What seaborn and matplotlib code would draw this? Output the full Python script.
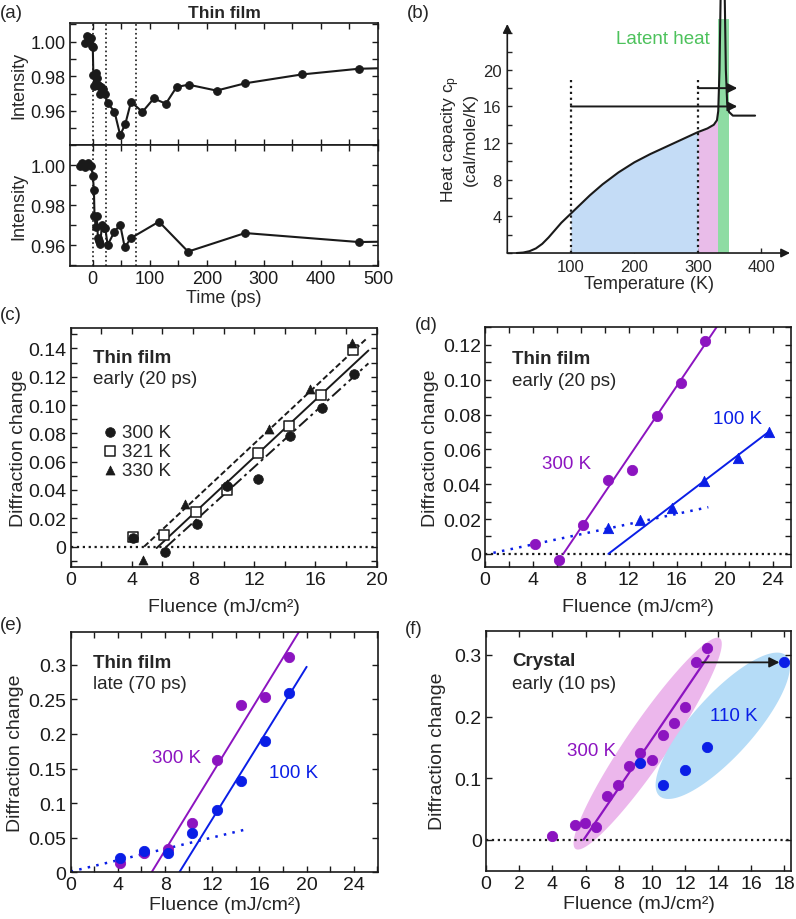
import numpy as np
import matplotlib
matplotlib.use('Agg')
import matplotlib.pyplot as plt
import seaborn as sns
from matplotlib.ticker import MultipleLocator, FuncFormatter
from matplotlib.patches import Polygon

# ---- (a) diffraction intensity vs time, two traces ----
time_top = [-13, -11, -8, -6, -4, -2, 0, 1, 3, 5, 7, 9, 11, 13, 15, 18, 21, 26, 38, 48, 57,
            67, 87, 107, 128, 147, 168, 217, 267, 366, 466, 566]
int_top = [0.9994, 1.0030, 1.0025, 1.0010, 1.0022, 0.9972, 0.9968, 0.9808, 0.9746, 0.9816,
           0.9790, 0.9750, 0.9745, 0.9700, 0.9740, 0.9725, 0.9700, 0.9645, 0.9596, 0.9460,
           0.9524, 0.9652, 0.9594, 0.9672, 0.9641, 0.9738, 0.9751, 0.9717, 0.9759, 0.9810,
           0.9843, 0.9851]
time_bot = [-23, -19, -13, -9, -3, 0, 2, 3, 5, 7, 9, 11, 13, 16, 19, 22, 26, 38, 48, 56, 67,
            116, 167, 267, 466, 566]
int_bot = [0.9997, 1.0012, 0.9992, 1.0012, 0.9997, 0.9948, 0.9875, 0.9747, 0.9692, 0.9747,
           0.9635, 0.9620, 0.9603, 0.9700, 0.9683, 0.9683, 0.9600, 0.9667, 0.9702, 0.9588,
           0.9635, 0.9717, 0.9567, 0.9660, 0.9615, 0.9619]
delay_marks = [0, 23, 75]

# ---- (b) heat capacity sketch ----
temp_k = [15, 25, 35, 45, 55, 65, 75, 85, 100, 115, 130, 150, 175, 200, 225, 250, 275, 300,
          315, 325, 330, 332, 334, 336, 338, 342, 344, 346, 349, 355, 390]
cp_vals = [0, 0.05, 0.2, 0.5, 1.0, 1.7, 2.5, 3.3, 4.3, 5.3, 6.3, 7.5, 8.8, 9.9, 10.8, 11.6,
           12.4, 13.2, 13.6, 14.0, 14.5, 15.5, 20, 29, 29, 29, 20, 16.5, 15.4, 15.0, 15.0]
blue_range = (100, 300)
pink_range = (300, 332)
latent_range = (332, 349)
latent_top = 25.5
ref_temps = [100, 300]
ref_tops = [19.2, 19.0]
arrow_starts = [100, 300]
arrow_levels = [16, 18]
arrow_end = 362

# ---- (c) thin film early, three temperatures ----
c_fl_300 = [4.1, 6.17, 8.24, 10.24, 12.27, 14.34, 16.4, 18.5]
c_dc_300 = [0.0059, -0.004, 0.016, 0.043, 0.048, 0.0784, 0.0976, 0.1219]
c_fl_321 = [4.1, 6.12, 8.19, 10.2, 12.27, 14.3, 16.36, 18.43]
c_dc_321 = [0.0071, 0.0085, 0.0247, 0.0402, 0.0659, 0.0854, 0.1073, 0.1388]
c_fl_330 = [4.75, 7.47, 10.2, 12.98, 15.64, 18.4]
c_dc_330 = [-0.0094, 0.030, 0.044, 0.083, 0.111, 0.1435]
c_fit_330 = ([4.8, 19.35], [0.0, 0.147])
c_fit_321 = ([5.62, 19.46], [-0.001, 0.1385])
c_fit_300 = ([6.27, 19.46], [0.0, 0.1294])

# ---- (d) thin film early, 300 K vs 100 K ----
d_fl_300 = [4.17, 6.2, 8.2, 10.29, 12.29, 14.32, 16.35, 18.35]
d_dc_300 = [0.0057, -0.0033, 0.0167, 0.0425, 0.0482, 0.0789, 0.098, 0.1223]
d_fl_100 = [10.29, 12.93, 15.63, 18.3, 21.08, 23.69]
d_dc_100 = [0.0147, 0.0195, 0.0264, 0.0417, 0.0549, 0.0702]
d_fit_300 = ([6.53, 19.6], [0.0, 0.133])
d_fit_100 = ([10.29, 23.69], [0.0, 0.0702])
d_fit_low = ([0.7, 18.63], [0.0006, 0.0268])

# ---- (e) thin film late ----
e_fl = [4.18, 6.21, 8.28, 10.25, 12.37, 14.4, 16.47, 18.47]
e_dc_300 = [0.0135, 0.0274, 0.0337, 0.0708, 0.1627, 0.2417, 0.2528, 0.3105]
e_dc_100 = [0.0202, 0.0303, 0.0274, 0.0568, 0.0905, 0.1324, 0.190, 0.259]
e_fit_300 = ([6.86, 19.4], [0.0, 0.349])
e_fit_100 = ([9.21, 20.0], [0.0, 0.297])
e_fit_low = ([0.0, 14.63], [0.001, 0.061])

# ---- (f) crystal early ----
f_fl_300 = [3.97, 5.34, 5.99, 6.65, 7.32, 7.98, 8.63, 9.31, 10.0, 10.66, 11.31, 11.99, 12.64, 13.3]
f_dc_300 = [0.0054, 0.0244, 0.0271, 0.020, 0.0704, 0.0893, 0.120, 0.1408, 0.1294, 0.1705,
            0.189, 0.215, 0.289, 0.311]
f_fl_110 = [9.31, 10.66, 11.99, 13.3, 17.96]
f_dc_110 = [0.1245, 0.0893, 0.113, 0.150, 0.288]
f_fit_300 = ([5.89, 13.43], [0.0, 0.2989])
f_arrow = ([13.04, 17.7], [0.288, 0.288])
# ellipses: centre, half-axis vector a, conjugate half-axis vector b (data units)
ell_300 = ((9.75, 0.156), (4.35, 0.171), (1.03, -0.0194))
ell_110 = ((14.28, 0.185), (3.82, 0.114), (1.35, -0.0337))

PURPLE = '#8c14c0'
BLUE = '#0a1ee6'

sns.set_theme(style='ticks')
plt.rcParams['font.family'] = ['Liberation Sans', 'DejaVu Sans']
plt.rcParams['mathtext.fontset'] = 'custom'
plt.rcParams['mathtext.rm'] = 'Liberation Sans'
plt.rcParams['mathtext.it'] = 'Liberation Sans:italic'

FS = 13      # panel (a)
FS2 = 14     # panels (c)-(f)


def style_axes(ax, fs=FS):
    ax.tick_params(which='both', direction='in', top=True, right=True, length=4,
                   width=1, labelsize=fs, pad=3, colors='k')
    for s in ax.spines.values():
        s.set_linewidth(1.2)
        s.set_color('k')


def dec_fmt(v, pos):
    if abs(v) < 1e-9:
        return '0'
    return f'{v:.2f}'


def short_fmt(v, pos):
    if abs(v) < 1e-9:
        return '0'
    return f'{v:g}'


fig = plt.figure(figsize=(7.96, 9.2), dpi=100)

# ================= (a) =================
ax_a1 = fig.add_axes([0.0879, 0.8413, 0.387, 0.1326])
ax_a2 = fig.add_axes([0.0879, 0.7098, 0.387, 0.1315])
for ax, tt, vv, yl in [(ax_a1, time_top, int_top, (0.9403, 1.0107)),
                       (ax_a2, time_bot, int_bot, (0.9495, 1.0101))]:
    sns.lineplot(x=tt, y=vv, ax=ax, color='k', lw=1.5, marker='o', markersize=5.5,
                 markeredgecolor='k', estimator=None, sort=False)
    for t in delay_marks:
        ax.axvline(t, color='k', ls=':', lw=1.2)
    ax.set_xlim(-40, 500)
    ax.set_ylim(*yl)
    style_axes(ax)
    ax.xaxis.set_major_locator(MultipleLocator(100))
    ax.xaxis.set_minor_locator(MultipleLocator(50))
    ax.yaxis.set_major_locator(MultipleLocator(0.02))
    ax.yaxis.set_minor_locator(MultipleLocator(0.01))
    ax.yaxis.set_major_formatter(FuncFormatter(lambda v, p: f'{v:.2f}'))
    ax.set_ylabel('Intensity', fontsize=FS, labelpad=2)
ax_a1.tick_params(labelbottom=False)
ax_a2.set_xlabel('Time (ps)', fontsize=FS, labelpad=1)
ax_a1.set_title('Thin film', fontsize=12.5, fontweight='bold', pad=4)

# ================= (b) =================
ax_b = fig.add_axes([0.6373, 0.7239, 0.3552, 0.2489])
temp_arr = np.array(temp_k)
cp_arr = np.array(cp_vals)
m_blue = (temp_arr >= blue_range[0]) & (temp_arr <= blue_range[1])
m_pink = (temp_arr >= pink_range[0]) & (temp_arr <= pink_range[1])
ax_b.fill_between(temp_arr[m_blue], 0, cp_arr[m_blue], color='#c4dcf6', lw=0, zorder=1)
ax_b.fill_between(temp_arr[m_pink], 0, cp_arr[m_pink], color='#e9bce9', lw=0, zorder=1)
ax_b.fill_between(list(latent_range), 0, latent_top, color='#8edca3', lw=0, zorder=1,
                  clip_on=False)
sns.lineplot(x=temp_k, y=cp_vals, ax=ax_b, color='k', lw=1.5, estimator=None, sort=False)
ax_b.lines[-1].set_clip_on(False)
ax_b.lines[-1].set_zorder(3)
for t, top in zip(ref_temps, ref_tops):
    ax_b.plot([t, t], [0, top], color='k', ls=':', lw=1.6, zorder=2)
for t0, lev in zip(arrow_starts, arrow_levels):
    ax_b.annotate('', xy=(arrow_end, lev), xytext=(t0, lev),
                  arrowprops=dict(arrowstyle='-|>', color='k', lw=1.4, mutation_scale=14,
                                  shrinkA=0, shrinkB=0), zorder=4)
ax_b.text(245, 23.4, 'Latent heat', color='#4dc25c', fontsize=13.5, ha='center', va='center')
ax_b.set_xlim(0, 445)
ax_b.set_ylim(0, 25)
for s in ax_b.spines.values():
    s.set_visible(False)
ax_b.annotate('', xy=(1, 0), xytext=(0, 0), xycoords='axes fraction',
              arrowprops=dict(arrowstyle='-|>', color='k', lw=1.2, mutation_scale=13,
                              shrinkA=0, shrinkB=0), annotation_clip=False)
ax_b.annotate('', xy=(0, 1), xytext=(0, 0), xycoords='axes fraction',
              arrowprops=dict(arrowstyle='-|>', color='k', lw=1.2, mutation_scale=13,
                              shrinkA=0, shrinkB=0), annotation_clip=False)
ax_b.set_xticks([100, 200, 300, 400])
ax_b.set_yticks([4, 8, 12, 16, 20])
ax_b.yaxis.set_minor_locator(MultipleLocator(2))
ax_b.tick_params(which='both', direction='in', length=3.5, width=1, labelsize=12, pad=4)
ax_b.set_xlabel('Temperature (K)', fontsize=13, labelpad=1)
ax_b.set_ylabel('Heat capacity c$_\\mathregular{p}$\n(cal/mole/K)', fontsize=12.5,
                labelpad=4, linespacing=1.05)

# ================= (c) =================
ax_c = fig.add_axes([0.0888, 0.3823, 0.3844, 0.2601])
ax_c.axhline(0, color='k', ls=':', lw=1.6, zorder=1)
ax_c.plot(*c_fit_330, color='k', ls=(0, (3, 1.5)), lw=1.4)
ax_c.plot(*c_fit_321, color='k', ls='-', lw=1.4)
ax_c.plot(*c_fit_300, color='k', ls=(0, (6, 2, 1.5, 2)), lw=1.4)
sns.scatterplot(x=c_fl_321, y=c_dc_321, ax=ax_c, marker='s', s=48, facecolor='white',
                edgecolor='k', linewidth=1.1, label='321 K', zorder=3)
sns.scatterplot(x=c_fl_300, y=c_dc_300, ax=ax_c, marker='o', s=48, color='k',
                edgecolor='k', label='300 K', zorder=4)
sns.scatterplot(x=c_fl_330, y=c_dc_330, ax=ax_c, marker='^', s=42, color='k',
                edgecolor='k', label='330 K', zorder=4)
ax_c.set_xlim(0, 20)
ax_c.set_ylim(-0.0146, 0.1544)
style_axes(ax_c, FS2)
ax_c.xaxis.set_major_locator(MultipleLocator(4))
ax_c.xaxis.set_minor_locator(MultipleLocator(2))
ax_c.yaxis.set_major_locator(MultipleLocator(0.02))
ax_c.yaxis.set_minor_locator(MultipleLocator(0.01))
ax_c.yaxis.set_major_formatter(FuncFormatter(dec_fmt))
ax_c.set_xlabel('Fluence (mJ/cm²)', fontsize=FS2, labelpad=7)
ax_c.set_ylabel('Diffraction change', fontsize=FS2, labelpad=1)
ax_c.text(0.074, 0.878, 'Thin film', transform=ax_c.transAxes, fontsize=13.5,
          fontweight='bold', va='center')
ax_c.text(0.074, 0.791, 'early (20 ps)', transform=ax_c.transAxes, fontsize=13.5,
          va='center')
hdl, lbl = ax_c.get_legend_handles_labels()
order = [lbl.index('300 K'), lbl.index('321 K'), lbl.index('330 K')]
ax_c.legend([hdl[i] for i in order], [lbl[i] for i in order], loc='upper left',
            bbox_to_anchor=(0.06, 0.64), frameon=False, fontsize=13.5,
            handletextpad=0.05, labelspacing=0.1, borderpad=0, handlelength=1.2)

# ================= (d) =================
ax_d = fig.add_axes([0.6093, 0.3823, 0.3840, 0.2609])
ax_d.axhline(0, color='k', ls=':', lw=1.6, zorder=1)
ax_d.plot(*d_fit_300, color=PURPLE, lw=1.4)
ax_d.plot(*d_fit_100, color=BLUE, lw=1.4)
ax_d.plot(*d_fit_low, color=BLUE, lw=1.8, ls=(0, (1, 2.5)))
sns.scatterplot(x=d_fl_300, y=d_dc_300, ax=ax_d, marker='o', s=55, color=PURPLE,
                edgecolor=PURPLE, zorder=3)
sns.scatterplot(x=d_fl_100, y=d_dc_100, ax=ax_d, marker='^', s=55, color=BLUE,
                edgecolor=BLUE, zorder=3)
ax_d.set_xlim(0, 25.5)
ax_d.set_ylim(-0.0077, 0.1301)
style_axes(ax_d, FS2)
ax_d.xaxis.set_major_locator(MultipleLocator(4))
ax_d.xaxis.set_minor_locator(MultipleLocator(2))
ax_d.yaxis.set_major_locator(MultipleLocator(0.02))
ax_d.yaxis.set_minor_locator(MultipleLocator(0.01))
ax_d.yaxis.set_major_formatter(FuncFormatter(dec_fmt))
ax_d.set_xlabel('Fluence (mJ/cm²)', fontsize=FS2, labelpad=7)
ax_d.set_ylabel('Diffraction change', fontsize=FS2, labelpad=3)
ax_d.text(0.087, 0.868, 'Thin film', transform=ax_d.transAxes, fontsize=13.5,
          fontweight='bold', va='center')
ax_d.text(0.087, 0.778, 'early (20 ps)', transform=ax_d.transAxes, fontsize=13.5,
          va='center')
ax_d.text(6.8, 0.0517, '300 K', color=PURPLE, fontsize=13.5, ha='center', va='center')
ax_d.text(21.1, 0.0775, '100 K', color=BLUE, fontsize=13.5, ha='center', va='center')

# ================= (e) =================
ax_e = fig.add_axes([0.0888, 0.0508, 0.3864, 0.2609])
ax_e.plot(*e_fit_300, color=PURPLE, lw=1.4)
ax_e.plot(*e_fit_100, color=BLUE, lw=1.4)
ax_e.plot(*e_fit_low, color=BLUE, lw=1.8, ls=(0, (1, 2.5)))
sns.scatterplot(x=e_fl, y=e_dc_300, ax=ax_e, marker='o', s=55, color=PURPLE,
                edgecolor=PURPLE, zorder=3)
sns.scatterplot(x=e_fl, y=e_dc_100, ax=ax_e, marker='o', s=55, color=BLUE,
                edgecolor=BLUE, zorder=3)
ax_e.set_xlim(0, 26.07)
ax_e.set_ylim(0, 0.347)
style_axes(ax_e, FS2)
ax_e.xaxis.set_major_locator(MultipleLocator(4))
ax_e.xaxis.set_minor_locator(MultipleLocator(2))
ax_e.yaxis.set_major_locator(MultipleLocator(0.05))
ax_e.yaxis.set_major_formatter(FuncFormatter(short_fmt))
ax_e.set_xlabel('Fluence (mJ/cm²)', fontsize=FS2, labelpad=2)
ax_e.set_ylabel('Diffraction change', fontsize=FS2, labelpad=3)
ax_e.text(0.073, 0.875, 'Thin film', transform=ax_e.transAxes, fontsize=13.5,
          fontweight='bold', va='center')
ax_e.text(0.073, 0.785, 'late (70 ps)', transform=ax_e.transAxes, fontsize=13.5,
          va='center')
ax_e.text(8.98, 0.166, '300 K', color=PURPLE, fontsize=13.5, ha='center', va='center')
ax_e.text(18.87, 0.1444, '100 K', color=BLUE, fontsize=13.5, ha='center', va='center')

# ================= (f) =================
ax_f = fig.add_axes([0.6106, 0.0525, 0.3832, 0.2609])
theta = np.linspace(0, 2 * np.pi, 200)
for (cen, va, vb), col in [(ell_300, '#ecb7ec'), (ell_110, '#b5dcf7')]:
    ex = cen[0] + va[0] * np.cos(theta) + vb[0] * np.sin(theta)
    ey = cen[1] + va[1] * np.cos(theta) + vb[1] * np.sin(theta)
    ax_f.add_patch(Polygon(np.column_stack([ex, ey]), closed=True, facecolor=col,
                           edgecolor='none', zorder=0))
ax_f.axhline(0, color='k', ls=':', lw=1.6, zorder=1)
ax_f.plot(*f_fit_300, color=PURPLE, lw=1.6, zorder=2)
ax_f.annotate('', xy=(f_arrow[0][1], f_arrow[1][1]), xytext=(f_arrow[0][0], f_arrow[1][0]),
              arrowprops=dict(arrowstyle='-|>', color='k', lw=1.3, mutation_scale=15,
                              shrinkA=0, shrinkB=0), zorder=4)
sns.scatterplot(x=f_fl_300, y=f_dc_300, ax=ax_f, marker='o', s=55, color=PURPLE,
                edgecolor=PURPLE, zorder=3)
sns.scatterplot(x=f_fl_110, y=f_dc_110, ax=ax_f, marker='o', s=55, color=BLUE,
                edgecolor=BLUE, zorder=3)
ax_f.set_xlim(0, 18.4)
ax_f.set_ylim(-0.0504, 0.3395)
style_axes(ax_f, FS2)
ax_f.xaxis.set_major_locator(MultipleLocator(2))
ax_f.yaxis.set_major_locator(MultipleLocator(0.1))
ax_f.yaxis.set_major_formatter(FuncFormatter(short_fmt))
ax_f.set_xlabel('Fluence (mJ/cm²)', fontsize=FS2, labelpad=2)
ax_f.set_ylabel('Diffraction change', fontsize=FS2, labelpad=6)
ax_f.text(0.086, 0.875, 'Crystal', transform=ax_f.transAxes, fontsize=13.5,
          fontweight='bold', va='center')
ax_f.text(0.086, 0.778, 'early (10 ps)', transform=ax_f.transAxes, fontsize=13.5,
          va='center')
ax_f.text(6.39, 0.1445, '300 K', color=PURPLE, fontsize=13.5, ha='center', va='center')
ax_f.text(14.92, 0.2013, '110 K', color=BLUE, fontsize=13.5, ha='center', va='center')

# panel letters
for lab, px, py in [('(a)', 0, 13), ('(b)', 407, 13), ('(c)', 0, 316),
                    ('(d)', 415, 325), ('(e)', 0, 626), ('(f)', 405, 629)]:
    fig.text(px / 796, 1 - py / 920, lab, fontsize=13.5, ha='left', va='center')

fig.savefig('out.png', dpi=100)
